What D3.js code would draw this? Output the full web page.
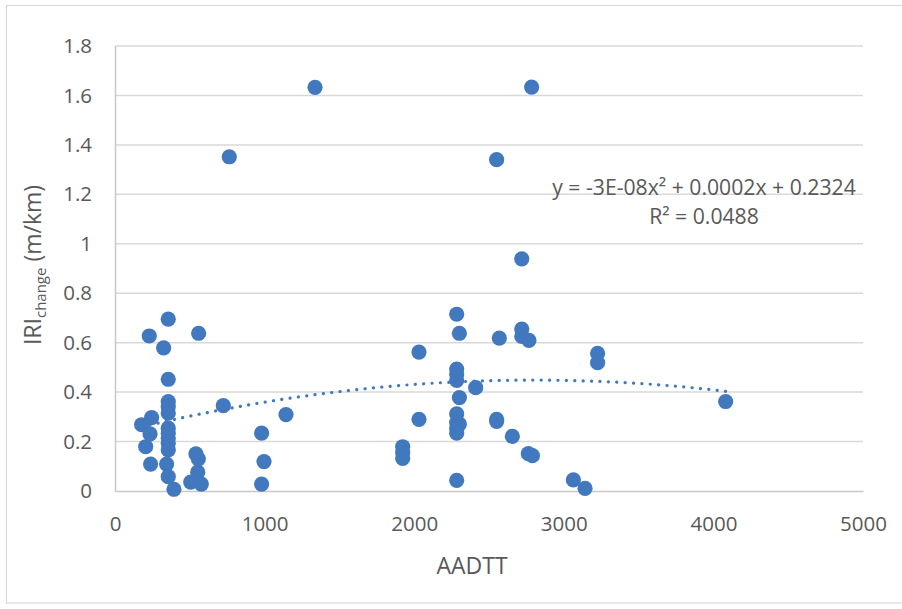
<!DOCTYPE html>
<html>
<head>
<meta charset="utf-8">
<script src="https://cdn.jsdelivr.net/npm/d3@7"></script>
<style>
  html, body { margin: 0; padding: 0; background: #fff; }
  svg { display: block; }
  text { font-family: "Open Sans", "Liberation Sans", sans-serif; fill: #595959; }
</style>
</head>
<body>
<svg id="chart" width="902" height="609"></svg>
<script>
// AADTT (x) and IRI change in m/km (y) for each section
const aadtt = [
  178, 205, 229, 234, 238, 245, 325, 345, 356, 356,
  356, 356, 356, 356, 356, 356, 356, 356, 356, 394,
  506, 541, 553, 557, 559, 577, 724, 764, 980, 980,
  996, 1143, 1337, 1923, 1923, 1923, 2032, 2032, 2284, 2302,
  2284, 2284, 2284, 2302, 2284, 2284, 2302, 2284, 2284, 2284,
  2411, 2551, 2551, 2551, 2569, 2656, 2719, 2719, 2719, 2767,
  2763, 2790, 2785, 3064, 3142, 3226, 3226, 4082
];
const iriChange = [
  0.268, 0.179, 0.627, 0.231, 0.109, 0.297, 0.579, 0.109, 0.695, 0.452,
  0.362, 0.341, 0.315, 0.254, 0.234, 0.213, 0.193, 0.166, 0.058, 0.007,
  0.036, 0.150, 0.076, 0.130, 0.638, 0.028, 0.345, 1.352, 0.234, 0.028,
  0.119, 0.309, 1.633, 0.179, 0.155, 0.132, 0.562, 0.290, 0.715, 0.638,
  0.493, 0.472, 0.447, 0.378, 0.312, 0.277, 0.271, 0.254, 0.234, 0.043,
  0.418, 0.290, 0.282, 1.340, 0.618, 0.221, 0.939, 0.655, 0.625, 0.609,
  0.151, 0.143, 1.634, 0.045, 0.011, 0.557, 0.519, 0.362
];

// Polynomial (order 2) trendline: c0 + c1*x + c2*x^2
const trendCoef = [0.2324, 1.545e-4, -2.76e-8];
const rSquared = 0.0488;

const xTicks = [0, 1000, 2000, 3000, 4000, 5000];
const yTicks = [0, 0.2, 0.4, 0.6, 0.8, 1, 1.2, 1.4, 1.6, 1.8];

const blue = "#4178BE";
const svg = d3.select("#chart");

// chart frame
svg.append("rect")
  .attr("x", 6.5).attr("y", 5.5)
  .attr("width", 901).attr("height", 597.5)
  .attr("fill", "#fff").attr("stroke", "#d9d9d9").attr("stroke-width", 1.2);

const x = d3.scaleLinear().domain([0, 5000]).range([115, 863]);
const y = d3.scaleLinear().domain([0, 1.8]).range([491, 46]);

// horizontal gridlines
svg.append("g").selectAll("line").data(yTicks.filter(d => d > 0)).join("line")
  .attr("x1", x(0)).attr("x2", x(5000))
  .attr("y1", d => y(d)).attr("y2", d => y(d))
  .attr("stroke", "#d9d9d9").attr("stroke-width", 1.5);

// axes
const tickFont = 20.5;
const yAxis = d3.axisLeft(y).tickValues(yTicks).tickSize(0).tickPadding(23)
  .tickFormat(d => d3.format("")(+d.toFixed(1)));
const gy = svg.append("g").attr("transform", `translate(${x(0)},0)`).call(yAxis);
gy.select(".domain").attr("stroke", "#c8c8c8").attr("stroke-width", 1.5);
gy.selectAll("text").attr("font-size", tickFont).attr("fill", "#595959")
  .attr("font-family", '"Open Sans", sans-serif');

const xAxis = d3.axisBottom(x).tickValues(xTicks).tickSize(0).tickPadding(25)
  .tickFormat(d3.format("d"));
const gx = svg.append("g").attr("transform", `translate(0,${y(0)})`).call(xAxis);
gx.select(".domain").attr("stroke", "#c8c8c8").attr("stroke-width", 1.5);
gx.selectAll("text").attr("font-size", tickFont).attr("fill", "#595959")
  .attr("font-family", '"Open Sans", sans-serif');

// data points
const pts = aadtt.map((v, i) => [v, iriChange[i]]);
svg.append("g").selectAll("circle").data(pts).join("circle")
  .attr("cx", d => x(d[0])).attr("cy", d => y(d[1]))
  .attr("r", 7.6).attr("fill", blue);

// trendline across the data range
const poly = v => trendCoef[0] + trendCoef[1] * v + trendCoef[2] * v * v;
const xMin = d3.min(aadtt), xMax = d3.max(aadtt);
const trend = d3.range(0, 101).map(i => {
  const v = xMin + (xMax - xMin) * i / 100;
  return [v, poly(v)];
});
svg.append("path")
  .datum(trend)
  .attr("d", d3.line().x(d => x(d[0])).y(d => y(d[1])))
  .attr("fill", "none").attr("stroke", blue)
  .attr("stroke-width", 3.2).attr("stroke-linecap", "round")
  .attr("stroke-dasharray", "0.1 8.3");

// equation label
function sci(v) {
  const [m, e] = v.toExponential(0).split("e");
  const ev = Math.abs(+e), sign = +e < 0 ? "-" : "+";
  return `${m}E${sign}${String(ev).padStart(2, "0")}`;
}
const c2 = sci(trendCoef[2]);
const c1 = (+trendCoef[1].toFixed(4)).toFixed(4);
const c0 = trendCoef[0].toFixed(4);
const eq = `y = ${c2}x² + ${c1}x + ${c0}`;
svg.append("text").attr("x", 704).attr("y", 195).attr("text-anchor", "middle")
  .attr("font-size", 21.2).text(eq);
svg.append("text").attr("x", 704).attr("y", 224).attr("text-anchor", "middle")
  .attr("font-size", 21.2).text(`R² = ${rSquared.toFixed(4)}`);

// axis titles
svg.append("text").attr("x", 472).attr("y", 574).attr("text-anchor", "middle")
  .attr("font-size", 23).text("AADTT");

const yt = svg.append("text")
  .attr("transform", "translate(41,265) rotate(-90)")
  .attr("text-anchor", "middle").attr("font-size", 23);
yt.append("tspan").text("IRI");
yt.append("tspan").attr("font-size", 15).attr("dy", 5).text("change");
yt.append("tspan").attr("dy", -5).text(" (m/km)");
</script>
</body>
</html>
